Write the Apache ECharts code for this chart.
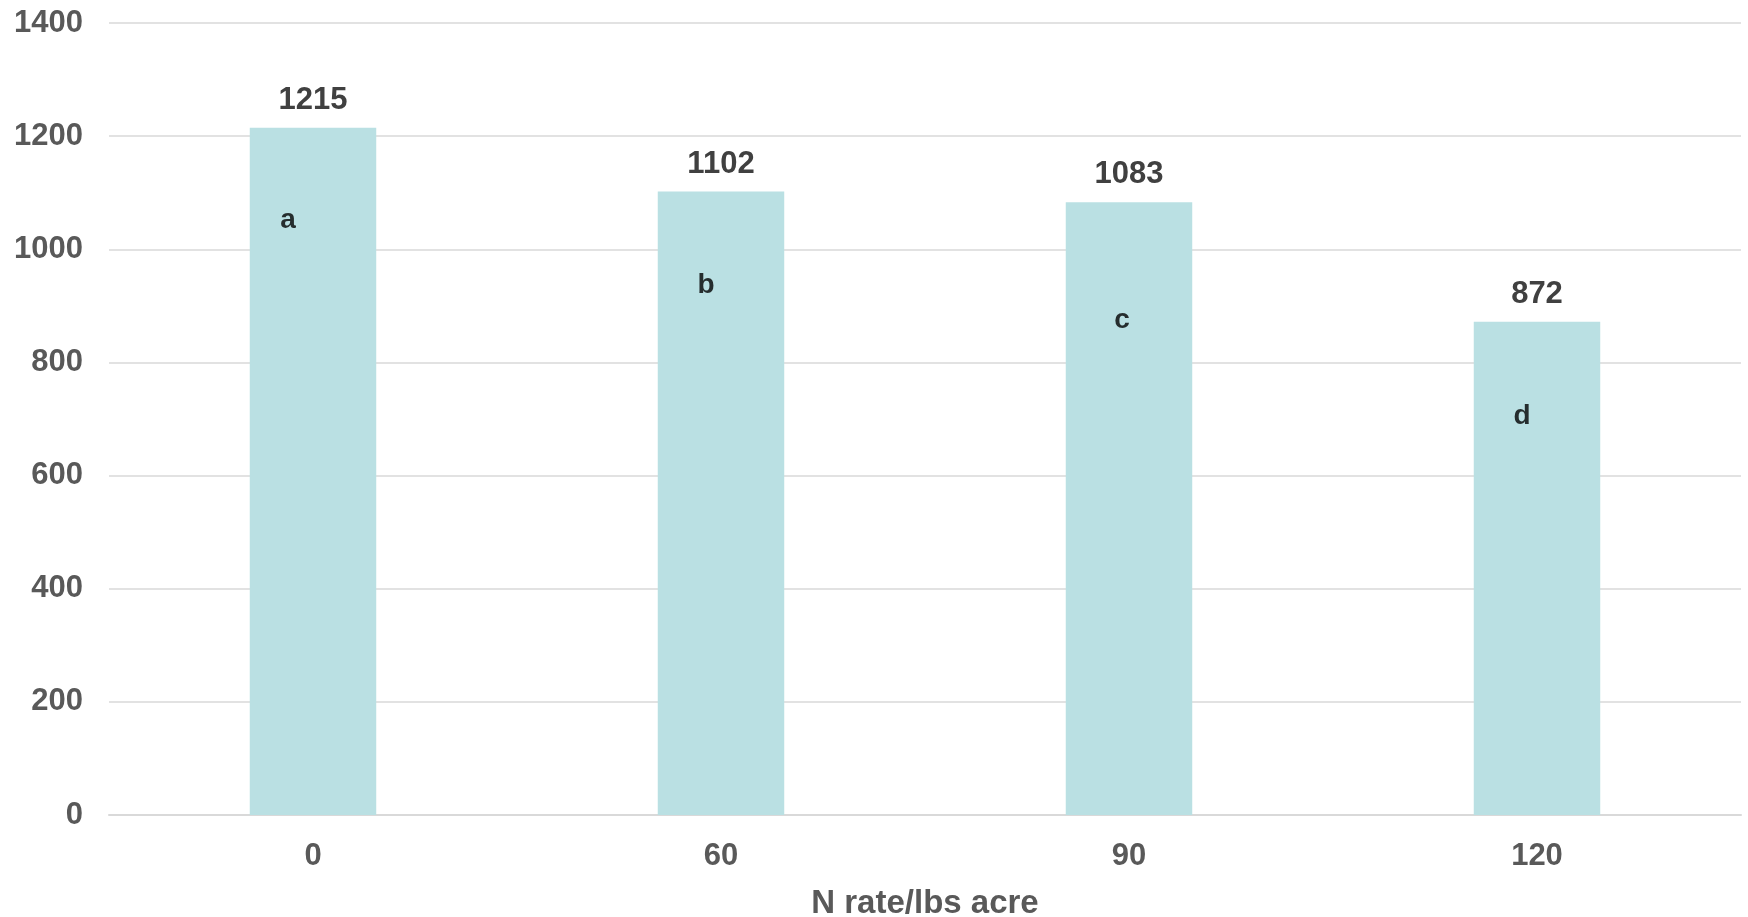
<!DOCTYPE html>
<html>
<head>
<meta charset="utf-8">
<script src="https://cdn.jsdelivr.net/npm/echarts@6/dist/echarts.min.js"></script>
<style>html,body{margin:0;padding:0;background:#fff;}#c{width:1748px;height:917px;}</style>
</head>
<body>
<div id="c"></div>
<script>
const categories = ['0', '60', '90', '120'];
const yieldValues = [1215, 1102, 1083, 872];
const letters = ['a', 'b', 'c', 'd'];
const letterValues = [1052, 937, 875, 704];
const letterOffsets = [-25, -15, -7, -15];
const yTicks = { min: 0, max: 1400, interval: 200 };
const xTitle = 'N rate/lbs acre';

const chart = echarts.init(document.getElementById('c'));
const font = 'Liberation Sans, Arial, sans-serif';
chart.setOption({
  animation: false,
  grid: { left: 109, right: 7, top: 23, bottom: 102, containLabel: false, outerBoundsMode: 'none' },
  xAxis: {
    type: 'category',
    data: categories,
    name: xTitle,
    nameLocation: 'middle',
    nameGap: 72,
    nameTextStyle: { fontFamily: font, fontWeight: 'bold', fontSize: 33, color: '#595959' },
    axisLine: { lineStyle: { color: '#d9d9d9', width: 2 } },
    axisTick: { show: false },
    axisLabel: { fontFamily: font, fontWeight: 'bold', fontSize: 31, color: '#595959', margin: 26 }
  },
  yAxis: {
    type: 'value',
    min: yTicks.min, max: yTicks.max, interval: yTicks.interval,
    axisLine: { show: false },
    axisTick: { show: false },
    splitLine: { lineStyle: { color: '#d9d9d9', width: 1.5 } },
    axisLabel: { fontFamily: font, fontWeight: 'bold', fontSize: 31, color: '#595959', margin: 26, formatter: v => String(v) }
  },
  series: [
    {
      type: 'bar',
      data: yieldValues,
      barWidth: '31%',
      itemStyle: { color: '#bae0e3' },
      label: { show: true, position: 'top', distance: 12, fontFamily: font, fontWeight: 'bold', fontSize: 31, color: '#404040' }
    },
    {
      type: 'scatter',
      data: letterValues.map((v, i) => ({
        value: [i, v],
        label: { show: true, formatter: letters[i], offset: [letterOffsets[i], 0] }
      })),
      symbolSize: 0,
      silent: true,
      label: { show: true, position: 'inside', fontFamily: font, fontWeight: 'bold', fontSize: 28, color: '#000000' }
    }
  ]
});
</script>
</body>
</html>
